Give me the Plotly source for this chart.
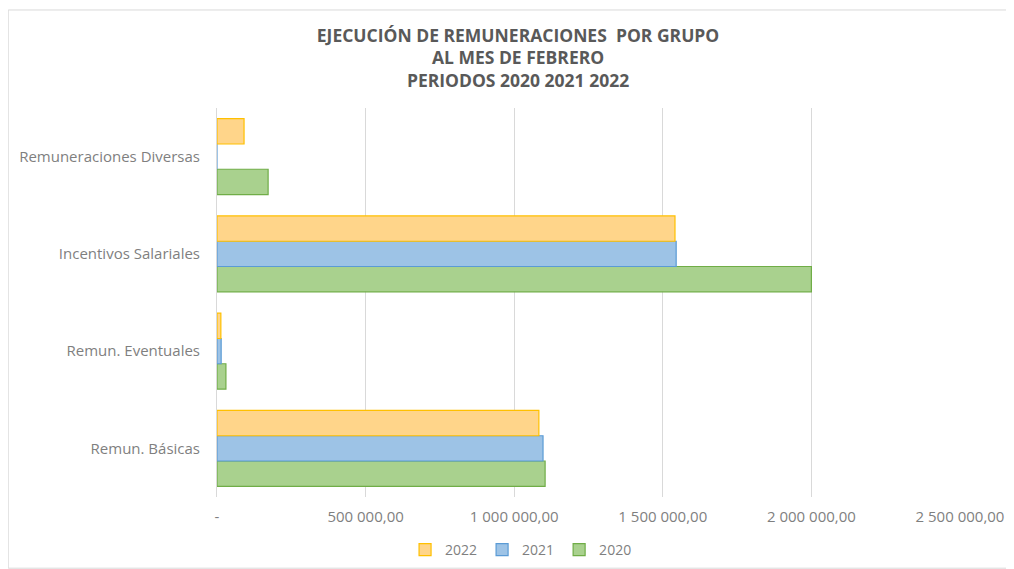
import plotly.graph_objects as go

categorias = ["Remun. Básicas", "Remun. Eventuales", "Incentivos Salariales", "Remuneraciones Diversas"]
anios = ["2020", "2021", "2022"]
v2020 = [1104000, 30000, 2000000, 172000]
v2021 = [1097000, 14000, 1545000, 0]
v2022 = [1083000, 13000, 1541000, 91000]
tick_vals = [0, 500000, 1000000, 1500000, 2000000, 2500000]
tick_text = ["-", "500 000,00", "1 000 000,00", "1 500 000,00", "2 000 000,00", "2 500 000,00"]

valores = {"2020": v2020, "2021": v2021, "2022": v2022}
relleno = {"2020": "#A9D18E", "2021": "#9DC3E6", "2022": "#FFD58A"}
borde = {"2020": "#70AD47", "2021": "#5B9BD5", "2022": "#FFC000"}

fig = go.Figure()
for a in anios:
    fig.add_trace(go.Bar(
        y=categorias, x=valores[a], name=a, orientation="h",
        marker=dict(color=relleno[a], line=dict(color=borde[a], width=1.2)),
    ))

# the page body has an 8px margin, so the figure is 8px smaller each way
fig.update_layout(
    width=1006, height=561,
    barmode="group", bargap=0.22, bargroupgap=0,
    plot_bgcolor="white", paper_bgcolor="white",
    margin=dict(l=209, r=54, t=100, b=72),
    font=dict(family="Open Sans, sans-serif", color="#7F7F7F", size=14),
    title=dict(
        text="EJECUCIÓN DE REMUNERACIONES  POR GRUPO<br>AL MES DE FEBRERO<br>PERIODOS 2020 2021 2022",
        x=0.507, xanchor="center", y=0.94, yanchor="top",
        font=dict(size=17.5, color="#595959", family="Open Sans, sans-serif", weight="bold"),
    ),
    xaxis=dict(
        range=[0, 2500000], tickvals=tick_vals, ticktext=tick_text,
        showgrid=True, gridcolor="#D9D9D9", gridwidth=1, automargin=False,
        zeroline=False, showline=False, ticks="", ticklabelstandoff=9,
        tickfont=dict(size=15, color="#7F7F7F"),
    ),
    yaxis=dict(
        showgrid=False, zeroline=False, showline=True, linecolor="#D9D9D9",
        automargin=False, ticks="", ticklabelstandoff=13,
        tickfont=dict(size=15, color="#7F7F7F"),
    ),
    legend=dict(
        orientation="h", traceorder="reversed",
        xref="container", x=0.51, xanchor="center",
        yref="container", y=0.034, yanchor="middle",
        font=dict(size=14, color="#7F7F7F"), itemwidth=30,
    ),
    showlegend=True,
    shapes=[dict(type="rect", xref="paper", yref="paper",
                 x0=-0.281, x1=1.069, y0=-0.183, y1=1.252,
                 line=dict(color="#D9D9D9", width=1), layer="below")],
)

fig.write_html("out.html")
